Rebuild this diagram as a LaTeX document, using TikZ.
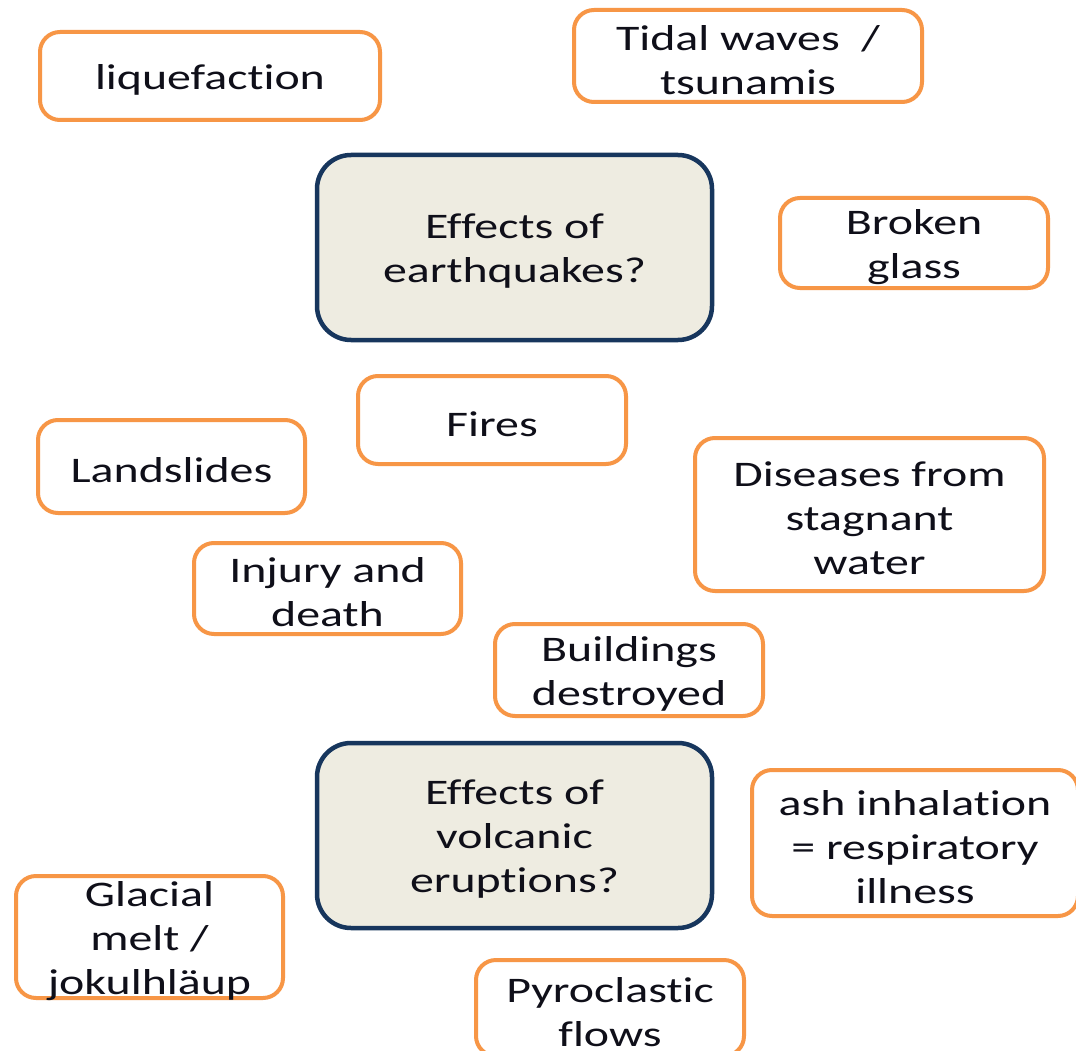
\documentclass[tikz,border=0pt]{standalone}
\usepackage{fontspec}
\setmainfont{Carlito}[FakeStretch=1.33, Ligatures=NoCommon]
\definecolor{boxorange}{RGB}{247,150,70}
\definecolor{hubnavy}{RGB}{23,54,93}
\definecolor{hubfill}{RGB}{238,236,225}
\definecolor{inktext}{RGB}{15,15,25}
\tikzset{
  caption/.style={align=center, inner sep=0pt, text=inktext, yshift=-4pt,
    font=\fontsize{36}{44}\selectfont},
  effect/.style={draw=boxorange, line width=4pt, rounded corners=20pt, fill=white,
    inner sep=0pt, label={[caption]center:#1}},
  hub/.style={draw=hubnavy, line width=4.5pt, rounded corners=34pt, fill=hubfill,
    inner sep=0pt, minimum width=395pt, minimum height=185pt,
    label={[caption]center:#1}},
  dims/.style 2 args={minimum width=#1pt, minimum height=#2pt}
}
\begin{document}
\begin{tikzpicture}[x=1pt, y=-1pt]
\useasboundingbox (0,0) rectangle (1076,1051);
\fill[white] (0,0) rectangle (1076,1051);
\begin{scope}
\clip (0,0) rectangle (1076,1051);
% central questions
\node[hub={Effects of\\earthquakes?}] (quake) at (514.5,247.5) {};
\node[hub={Effects of\\volcanic\\eruptions?}] (volcano) at (514.5,835.5) {};
% surrounding effects
\node[effect={liquefaction}, dims={340}{88}] (liquefaction) at (210,76) {};
\node[effect={Tidal waves~ /\\tsunamis}, dims={348}{92}] (tidal) at (748,56) {};
\node[effect={Broken\\glass}, dims={268}{90}] (glass) at (914,243) {};
\node[effect={Fires}, dims={268}{88}] (fires) at (492,420) {};
\node[effect={Landslides}, dims={267}{93}] (landslides) at (171.5,466.5) {};
\node[effect={Diseases from\\stagnant\\water}, dims={349}{153}] (diseases) at (869.5,514.5) {};
\node[effect={Injury and\\death}, dims={267}{91}] (injury) at (327.5,588.5) {};
\node[effect={Buildings\\destroyed}, dims={268}{92}] (buildings) at (629,670) {};
\node[effect={ash inhalation\\= respiratory\\illness}, dims={326}{146}] (ash) at (915,843) {};
\node[effect={Glacial\\melt /\\jokulhläup}, dims={267}{122}] (glacial) at (149.5,937) {};
\node[effect={Pyroclastic\\flows}, dims={268}{96}] (pyro) at (610,1008) {};
\end{scope}
\end{tikzpicture}
\end{document}
